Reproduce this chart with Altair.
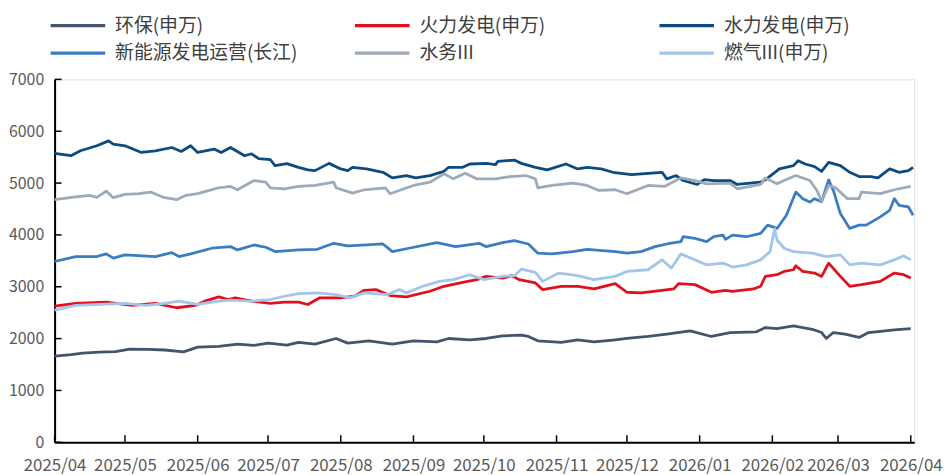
import datetime as dt
import altair as alt
import pandas as pd

START = dt.date(2025, 4, 1)

series_names = ["环保(申万)", "火力发电(申万)", "水力发电(申万)",
                "新能源发电运营(长江)", "水务III", "燃气III(申万)"]
series_colors = ["#44546A", "#E0101C", "#0D4A80", "#3A7DC0", "#9CAABA", "#A2C5E9"]

# days since 2025-04-01, values
hb_days = [0, 7, 12, 19, 26, 32, 40, 47, 55, 61, 70, 78, 85, 91, 99, 104, 111, 120, 125, 134,
           144, 153, 163, 168, 177, 184, 191, 199, 202, 206, 216, 223, 230, 239, 244, 253, 261, 271, 280, 288,
           299, 303, 308, 315, 323, 327, 329, 332, 337, 343, 347, 358, 365]
hb_vals = [1664, 1690, 1720, 1740, 1750, 1798, 1790, 1780, 1745, 1836, 1850, 1893, 1870, 1913, 1875, 1926, 1893, 2002, 1913, 1957,
           1893, 1957, 1938, 2002, 1976, 2002, 2052, 2066, 2041, 1957, 1926, 1976, 1938, 1976, 2002, 2041, 2085, 2148, 2041, 2117,
           2129, 2213, 2194, 2244, 2180, 2117, 2002, 2117, 2085, 2022, 2117, 2168, 2194]

hl_days = [0, 9, 22, 33, 43, 52, 60, 64, 70, 74, 77, 84, 92, 98, 104, 108, 113, 122, 128, 132,
           137, 143, 150, 160, 166, 174, 180, 184, 191, 195, 198, 205, 208, 216, 223, 230, 239, 244, 250, 259,
           264, 266, 273, 280, 286, 289, 298, 301, 303, 308, 311, 315, 316, 319, 324, 327, 330, 335, 339, 344,
           352, 358, 362, 365]
hl_vals = [2626, 2678, 2703, 2639, 2678, 2595, 2639, 2722, 2806, 2754, 2787, 2722, 2678, 2703, 2703, 2658, 2787, 2787, 2817, 2932,
           2945, 2830, 2806, 2913, 3009, 3085, 3137, 3200, 3168, 3213, 3137, 3073, 2945, 3009, 3009, 2958, 3060, 2894, 2882, 2932,
           2958, 3060, 3041, 2894, 2932, 2913, 2958, 3009, 3200, 3232, 3295, 3328, 3404, 3295, 3264, 3200, 3456, 3200, 3009, 3041,
           3104, 3264, 3232, 3168]

sl_days = [0, 7, 11, 18, 23, 25, 30, 37, 43, 50, 54, 58, 61, 68, 71, 75, 81, 84, 87, 92,
           94, 99, 104, 108, 111, 117, 122, 125, 127, 133, 140, 144, 150, 154, 160, 166, 168, 174, 177, 184,
           188, 189, 196, 199, 205, 210, 218, 223, 227, 233, 238, 246, 253, 259, 261, 265, 268, 274, 277, 281,
           288, 291, 301, 303, 309, 315, 317, 320, 324, 327, 330, 335, 339, 343, 348, 351, 356, 360, 364, 366]
sl_vals = [5571, 5527, 5623, 5719, 5814, 5750, 5719, 5590, 5623, 5686, 5610, 5719, 5590, 5655, 5590, 5686, 5527, 5565, 5470, 5450,
           5336, 5374, 5304, 5254, 5240, 5380, 5273, 5240, 5304, 5273, 5208, 5100, 5145, 5100, 5145, 5227, 5304, 5304, 5368, 5380,
           5355, 5418, 5444, 5380, 5304, 5254, 5368, 5273, 5304, 5273, 5208, 5164, 5189, 5208, 5081, 5145, 5049, 4973, 5068, 5049,
           5049, 4973, 5017, 5062, 5273, 5336, 5432, 5368, 5317, 5227, 5400, 5336, 5208, 5126, 5126, 5100, 5273, 5208, 5240, 5304]

xny_days = [0, 9, 18, 22, 25, 30, 43, 50, 53, 58, 67, 75, 78, 85, 90, 94, 104, 112, 119, 125,
            133, 140, 144, 151, 163, 171, 181, 184, 191, 196, 202, 206, 212, 221, 227, 239, 244, 250, 256, 261,
            267, 268, 273, 278, 281, 285, 286, 289, 295, 301, 304, 308, 312, 316, 319, 322, 324, 327, 330, 332,
            335, 339, 343, 346, 352, 356, 358, 360, 364, 366]
xny_vals = [3487, 3583, 3583, 3634, 3552, 3615, 3583, 3659, 3583, 3634, 3743, 3774, 3710, 3806, 3762, 3678, 3710, 3723, 3838, 3787,
            3806, 3825, 3678, 3743, 3850, 3774, 3838, 3774, 3850, 3889, 3825, 3647, 3634, 3678, 3723, 3678, 3647, 3678, 3774, 3825,
            3870, 3965, 3934, 3870, 3965, 3997, 3915, 3997, 3965, 4030, 4189, 4125, 4380, 4826, 4699, 4634, 4699, 4640, 5062, 4858,
            4412, 4125, 4189, 4189, 4348, 4475, 4699, 4571, 4539, 4380]

sw_days = [0, 8, 15, 18, 22, 25, 30, 36, 41, 46, 52, 56, 61, 66, 70, 75, 78, 85, 90, 92,
           98, 104, 111, 119, 120, 127, 132, 141, 143, 149, 153, 160, 166, 170, 175, 180, 188, 194, 201, 205,
           206, 212, 221, 227, 232, 239, 244, 253, 260, 267, 273, 278, 288, 291, 301, 303, 308, 311, 316, 322,
           325, 327, 330, 333, 338, 343, 344, 352, 358, 365]
sw_vals = [4680, 4730, 4763, 4724, 4845, 4718, 4782, 4795, 4826, 4730, 4680, 4763, 4795, 4858, 4909, 4935, 4871, 5049, 5017, 4909,
           4890, 4935, 4954, 5017, 4909, 4807, 4871, 4909, 4795, 4890, 4954, 5017, 5178, 5081, 5189, 5081, 5081, 5126, 5145, 5081,
           4909, 4954, 4999, 4954, 4858, 4871, 4795, 4954, 4935, 5100, 5049, 4986, 4999, 4890, 4973, 5100, 4986, 5049, 5145, 5049,
           4858, 4650, 4954, 4909, 4699, 4699, 4826, 4795, 4871, 4935]

rq_days = [0, 9, 19, 30, 39, 47, 53, 61, 70, 75, 84, 92, 98, 104, 112, 120, 126, 132, 142, 147,
           150, 157, 164, 170, 177, 183, 191, 196, 199, 205, 208, 215, 223, 230, 239, 244, 253, 259, 263, 267,
           273, 278, 285, 289, 295, 301, 305, 307, 308, 311, 315, 323, 329, 335, 339, 344, 352, 358, 362, 365]
rq_vals = [2550, 2639, 2658, 2678, 2639, 2678, 2722, 2658, 2722, 2741, 2722, 2754, 2817, 2869, 2882, 2850, 2787, 2882, 2850, 2945,
           2882, 3009, 3104, 3137, 3232, 3137, 3200, 3213, 3340, 3276, 3104, 3264, 3213, 3137, 3200, 3295, 3328, 3519, 3360, 3634,
           3519, 3423, 3456, 3380, 3423, 3519, 3678, 4120, 3902, 3743, 3678, 3647, 3583, 3615, 3423, 3456, 3423, 3519, 3596, 3519]

y_ticks = [0, 1000, 2000, 3000, 4000, 5000, 6000, 7000]
month_ticks = ["2025-04-01", "2025-05-01", "2025-06-01", "2025-07-01", "2025-08-01", "2025-09-01",
               "2025-10-01", "2025-11-01", "2025-12-01", "2026-01-01", "2026-02-01", "2026-03-01", "2026-04-01"]

FONT = "Noto Sans CJK SC"


def to_date(d):
    return (START + dt.timedelta(days=d)).isoformat()


rows = []
for name, days, vals in zip(series_names,
                            [hb_days, hl_days, sl_days, xny_days, sw_days, rq_days],
                            [hb_vals, hl_vals, sl_vals, xny_vals, sw_vals, rq_vals]):
    for d, v in zip(days, vals):
        rows.append({"date": to_date(d), "value": v, "series": name})
df = pd.DataFrame(rows)

x_scale = alt.Scale(type="utc", domain=[alt.DateTime(year=2025, month=4, date=1, utc=True),
                                        alt.DateTime(year=2026, month=4, date=2, hours=12, utc=True)])
y_scale = alt.Scale(domain=[0, 7000], nice=False, zero=True)

tick_vals = [alt.DateTime(year=int(s[:4]), month=int(s[5:7]), date=1, utc=True) for s in month_ticks]

x_axis = alt.Axis(values=tick_vals, labelExpr="utcFormat(datum.value, '%Y/%m')",
                  ticks=False, grid=False, domainColor="#000000", domainWidth=2,
                  labelFont=FONT, labelFontSize=17, labelColor="#595959",
                  labelPadding=15, labelOverlap=False, labelFlush=False)
y_axis = alt.Axis(values=y_ticks, format="d", ticks=False, grid=False, domainColor="#000000", domainWidth=2,
                  labelFont=FONT, labelFontSize=16, labelColor="#595959", labelPadding=11)

x_enc = alt.X("date:T", scale=x_scale, title=None, axis=x_axis)
y_enc = alt.Y("value:Q", scale=y_scale, title=None, axis=y_axis)

lines = alt.Chart(df).mark_line(strokeWidth=2.8, strokeJoin="round").encode(
    x=x_enc,
    y=y_enc,
    color=alt.Color("series:N", scale=alt.Scale(domain=series_names, range=series_colors),
                    legend=alt.Legend(orient="none", legendX=-8, legendY=-64, columns=3, direction="horizontal",
                                      title=None,
                                      symbolType="M-1,0H9", symbolSize=121, symbolStrokeWidth=3.2,
                                      labelFont=FONT, labelFontSize=19, labelColor="#404040",
                                      labelOffset=50, labelLimit=400, gridAlign="all",
                                      columnPadding=51, rowPadding=8, padding=0)),
)

ytick_df = pd.DataFrame({"value": y_ticks})
yticks = alt.Chart(ytick_df).mark_rule(color="#000000", strokeWidth=1.5).encode(
    y=y_enc,
    x=alt.value(0), x2=alt.value(7),
)

xtick_df = pd.DataFrame({"date": month_ticks})
xticks = alt.Chart(xtick_df).mark_rule(color="#000000", strokeWidth=1.5).encode(
    x=x_enc,
    y=alt.value(366 - 7), y2=alt.value(366),
)

chart = alt.layer(lines, yticks, xticks).properties(
    width=867, height=366,
    autosize=alt.AutoSizeParams(type="none"),
    padding={"left": 47, "top": 70, "right": 30, "bottom": 31},
).configure_view(stroke=None).configure(background="#ffffff")

chart.save("out.html", embed_options={"renderer": "svg", "actions": False})
